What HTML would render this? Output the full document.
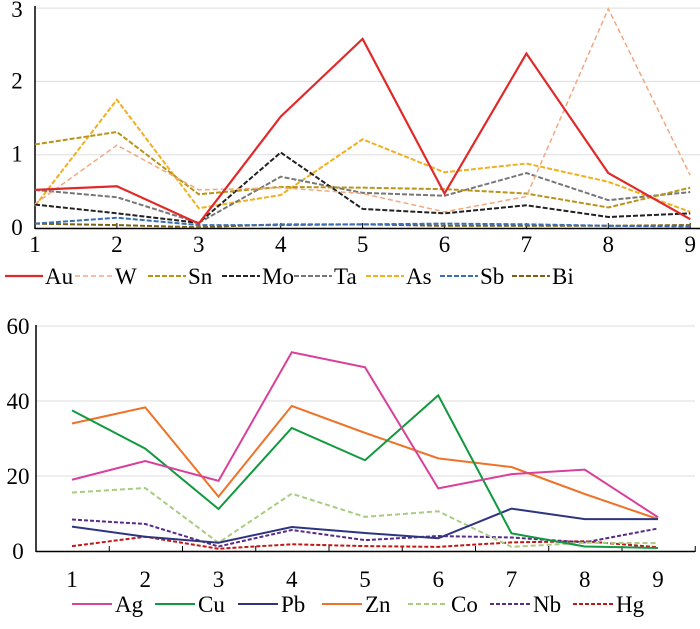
<!DOCTYPE html>
<html><head><meta charset="utf-8"><style>
html,body{margin:0;padding:0;background:#fff}
svg{display:block}
svg text{font-family:"Liberation Serif","Times New Roman",Times,"DejaVu Serif",serif !important}
</style></head><body>
<svg id="c" width="700" height="629"></svg>
<script>
const categories=[1,2,3,4,5,6,7,8,9];
const topTicks=[0,1,2,3];
const botTicks=[0,20,40,60];
const topNames=["Au","W","Sn","Mo","Ta","As","Sb","Bi"];
const au=[0.52,0.57,0.06,1.52,2.58,0.47,2.38,0.75,0.12];
const w=[0.33,1.13,0.52,0.55,0.47,0.22,0.43,2.99,0.72];
const sn=[1.14,1.31,0.46,0.56,0.55,0.53,0.47,0.28,0.55];
const mo=[0.32,0.20,0.07,1.03,0.26,0.20,0.31,0.15,0.20];
const ta=[0.52,0.42,0.07,0.70,0.48,0.44,0.75,0.38,0.49];
const as=[0.30,1.75,0.27,0.45,1.21,0.76,0.88,0.63,0.22];
const sb=[0.06,0.14,0.04,0.04,0.05,0.06,0.05,0.03,0.02];
const bi=[0.06,0.04,0.01,0.05,0.05,0.03,0.03,0.03,0.04];
const botNames=["Ag","Cu","Pb","Zn","Co","Nb","Hg"];
const ag=[19,24,18.7,53,49,16.7,20.5,21.7,9];
const cu=[37.5,27.3,11.2,32.8,24.2,41.5,4.7,1.2,0.8];
const pb=[6.5,3.8,2.2,6.4,4.8,3.4,11.3,8.5,8.5];
const zn=[34,38.3,14.5,38.7,31.5,24.7,22.4,15.2,8.5];
const co=[15.6,16.8,2.2,15.3,9.1,10.6,1.1,2.2,2.1];
const nb=[8.4,7.2,1.2,5.6,2.9,4,3.6,2.3,6];
const hg=[1.3,3.8,0.6,1.8,1.3,1.1,2.3,2.6,1];

const NS="http://www.w3.org/2000/svg";
const svg=document.getElementById('c');
function mk(t,a,p){const e=document.createElementNS(NS,t);for(const k in a)e.setAttribute(k,a[k]);if(t==='text')e.style.fontFamily='"Liberation Serif","Times New Roman",Times,serif';(p||svg).appendChild(e);return e;}

const topSeries=[
 {d:au,c:"#e02a2a",dash:"",sw:2.2},
 {d:w,c:"#f0a880",dash:"5,3",sw:1.5},
 {d:sn,c:"#b89418",dash:"5,2",sw:2},
 {d:mo,c:"#222",dash:"5,2",sw:2},
 {d:ta,c:"#777",dash:"5,2",sw:2},
 {d:as,c:"#f0b020",dash:"5,2",sw:2},
 {d:sb,c:"#3a6fb8",dash:"5,2",sw:2},
 {d:bi,c:"#7a6010",dash:"5,2",sw:2}];
const botSeries=[
 {d:ag,c:"#d8409a",dash:"",sw:2},
 {d:cu,c:"#10993e",dash:"",sw:2},
 {d:pb,c:"#2e3580",dash:"",sw:2},
 {d:zn,c:"#ee7228",dash:"",sw:2},
 {d:co,c:"#a8cc80",dash:"5,3",sw:2},
 {d:nb,c:"#5a2a88",dash:"4,2",sw:2},
 {d:hg,c:"#c01818",dash:"4,2",sw:2}];

// top chart
const tx=v=>35+(v-1)*81.9, ty=v=>228-v*73.3;
const g1=mk('g',{});


topTicks.forEach(t=>{
 if(t>0){const l=mk('line',{x1:35,x2:700,y1:ty(t),y2:ty(t),stroke:"#ddd","stroke-width":1},g1);
 }
 const tl=mk('text',{x:17,y:ty(t)+(t==3?9:7),"font-size":23,"text-anchor":"middle"},g1);tl.textContent=t;
 
});
mk('line',{x1:35,x2:35,y1:6,y2:229,stroke:"#000","stroke-width":1.5},g1);
mk('line',{x1:35,x2:700,y1:228.5,y2:228.5,stroke:"#000","stroke-width":1.5},g1);
categories.forEach(c=>{
 mk('line',{x1:tx(c),x2:tx(c),y1:223,y2:229,stroke:"#000"},g1);
 const tl=mk('text',{x:Math.min(tx(c),692),y:252,"font-size":23,"text-anchor":"middle"},g1);tl.textContent=c;
 
});
topSeries.slice().reverse().forEach((s,i)=>{
 const p=mk('polyline',{points:s.d.map((v,j)=>tx(categories[j])+","+ty(v)).join(" "),fill:"none",stroke:s.c,"stroke-width":s.sw,"stroke-dasharray":s.dash},g1);
 
});
const tlx=[5,75,148,222,294,366,440,512];
topNames.forEach((n,i)=>{
 const s=topSeries[i];
 mk('line',{x1:tlx[i],x2:tlx[i]+38,y1:276,y2:276,stroke:s.c,"stroke-width":s.sw,"stroke-dasharray":s.dash},g1);
 const t=mk('text',{x:tlx[i]+40,y:284,"font-size":23},g1);t.textContent=n;
 
});

// bottom chart
const bx=v=>72+(v-1)*73.25, by=v=>551-v*3.75;
const g2=mk('g',{});


botTicks.forEach(t=>{
 if(t>0){const l=mk('line',{x1:36,x2:695,y1:by(t),y2:by(t),stroke:"#ddd","stroke-width":1},g2);
 }
 const tl=mk('text',{x:18,y:by(t)+8,"font-size":23,"text-anchor":"middle"},g2);tl.textContent=t;
 
});
mk('line',{x1:36,x2:36,y1:325,y2:552,stroke:"#000","stroke-width":1.5},g2);
mk('line',{x1:36,x2:695,y1:551.5,y2:551.5,stroke:"#000","stroke-width":1.5},g2);
for(let k=0;k<=9;k++){const x=36+k*73.25;mk('line',{x1:x,x2:x,y1:546,y2:552,stroke:"#000"},g2);}
categories.forEach(c=>{
 const tl=mk('text',{x:bx(c),y:587,"font-size":23,"text-anchor":"middle"},g2);tl.textContent=c;
 
});
botSeries.slice().reverse().forEach(s=>{
 const p=mk('polyline',{points:s.d.map((v,j)=>bx(categories[j])+","+by(v)).join(" "),fill:"none",stroke:s.c,"stroke-width":s.sw,"stroke-dasharray":s.dash},g2);
 
});
const blx=[72,155,238,322,408,490,573];
botNames.forEach((n,i)=>{
 const s=botSeries[i];
 mk('line',{x1:blx[i],x2:blx[i]+40,y1:604,y2:604,stroke:s.c,"stroke-width":s.sw,"stroke-dasharray":s.dash},g2);
 const t=mk('text',{x:blx[i]+43,y:612,"font-size":23},g2);t.textContent=n;
 
});
</script>
</body></html>
